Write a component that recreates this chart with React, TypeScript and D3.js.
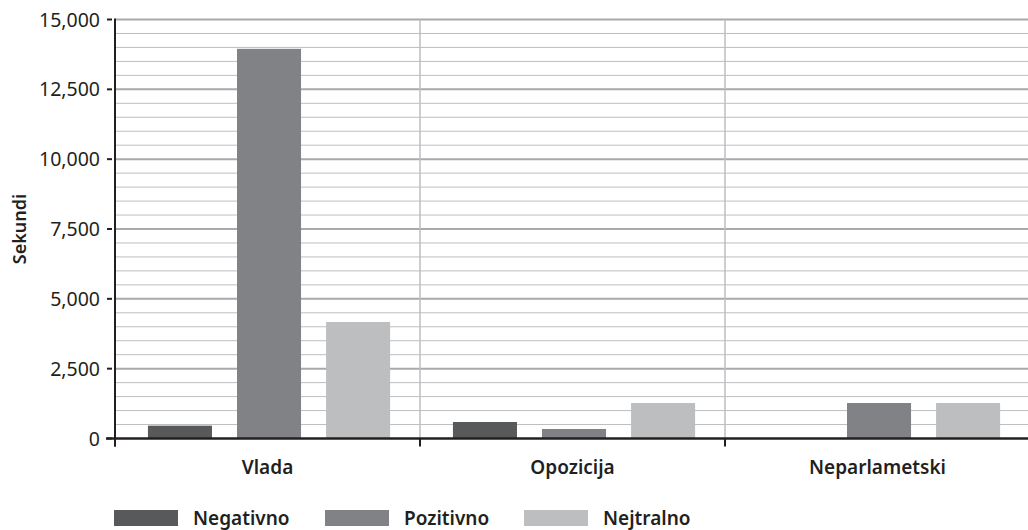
import React from "react";
import * as d3 from "d3";

const categories = ["Vlada", "Opozicija", "Neparlametski"];
const seriesNames = ["Negativno", "Pozitivno", "Nejtralno"];
const negativno = [460, 590, 0];
const pozitivno = [13950, 340, 1270];
const nejtralno = [4170, 1270, 1270];
const yTicks = [0, 2500, 5000, 7500, 10000, 12500, 15000];
const minorStep = 500;

const seriesValues = [negativno, pozitivno, nejtralno];
const colors = ["#58595b", "#808285", "#bcbec0"];

const W = 1028;
const H = 530;
const left = 115;
const right = 1030;
const top = 19.5;
const bottom = 438.5;
const font = "'Noto Sans', 'Open Sans', sans-serif";

export default function App() {
  const x = d3.scaleBand<string>().domain(categories).range([left, right]);
  const inner = d3
    .scaleBand<string>()
    .domain(seriesNames)
    .range([x.bandwidth() * 0.108, x.bandwidth() * 0.902])
    .paddingInner(0.281)
    .paddingOuter(0);
  const y = d3.scaleLinear().domain([0, 15000]).range([bottom, top]);
  const minor = d3.range(0, 15001, minorStep).filter((v) => v % 2500 !== 0);
  const fmt = d3.format(",");
  const legendX = [114, 325, 524];

  return (
    <svg width={W} height={H} style={{ position: "absolute", left: 0, top: 0 }}>
      <rect width={W} height={H} fill="#fff" />
      {minor.map((v) => (
        <line key={"m" + v} x1={left} x2={W} y1={y(v)} y2={y(v)} stroke="#bcbec0" strokeWidth={1} />
      ))}
      {yTicks.filter((v) => v > 0).map((v) => (
        <line key={"M" + v} x1={left} x2={W} y1={y(v)} y2={y(v)} stroke="#a7a9ac" strokeWidth={2} />
      ))}
      {categories.slice(1).map((c) => (
        <line key={"v" + c} x1={x(c)!} x2={x(c)!} y1={top} y2={bottom} stroke="#bcbec0" strokeWidth={1.5} />
      ))}
      {categories.map((c, ci) =>
        seriesNames.map((s, si) => {
          const v = seriesValues[si][ci];
          if (!v) return null;
          return (
            <rect
              key={c + s}
              x={x(c)! + inner(s)!}
              width={inner.bandwidth()}
              y={y(v)}
              height={bottom - y(v)}
              fill={colors[si]}
            />
          );
        })
      )}
      {/* axes */}
      <line x1={left} x2={left} y1={top - 1} y2={bottom + 8} stroke="#231f20" strokeWidth={2} />
      <line x1={left - 9} x2={W} y1={bottom} y2={bottom} stroke="#231f20" strokeWidth={2.5} />
      {yTicks.map((v) => (
        <g key={"t" + v}>
          <line x1={left - 8} x2={left - 3} y1={y(v)} y2={y(v)} stroke="#231f20" strokeWidth={2} />
          <text
            x={left - 15}
            y={y(v)}
            dy="0.36em"
            textAnchor="end"
            fontFamily={font}
            fontSize={19.5}
            fill="#231f20"
          >
            {fmt(v)}
          </text>
        </g>
      ))}
      {categories.map((c) => (
        <g key={"c" + c}>
          <line x1={x(c)!} x2={x(c)!} y1={bottom} y2={bottom + 8} stroke="#231f20" strokeWidth={2} />
          <text
            x={x(c)! + x.bandwidth() / 2}
            y={474}
            textAnchor="middle"
            fontFamily={font}
            fontSize={19}
            fontWeight={600}
            fill="#231f20"
          >
            {c}
          </text>
        </g>
      ))}
      <text
        transform={`translate(26, 229) rotate(-90)`}
        textAnchor="middle"
        fontFamily={font}
        fontSize={18}
        fontWeight={600}
        fill="#231f20"
      >
        Sekundi
      </text>
      {seriesNames.map((s, i) => (
        <g key={"l" + s}>
          <rect x={legendX[i]} y={510} width={64} height={16} fill={colors[i]} />
          <text
            x={legendX[i] + 79}
            y={525}
            fontFamily={font}
            fontSize={19}
            fontWeight={600}
            fill="#231f20"
          >
            {s}
          </text>
        </g>
      ))}
    </svg>
  );
}
